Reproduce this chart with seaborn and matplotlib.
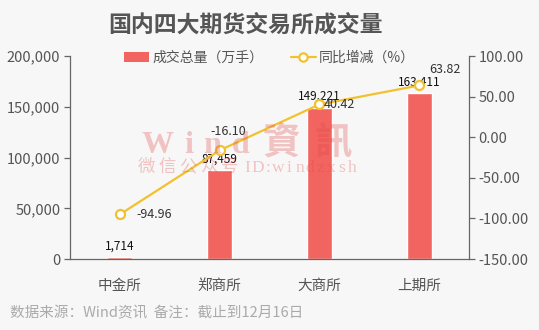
import matplotlib
matplotlib.use("Agg")
import matplotlib.pyplot as plt
import seaborn as sns
import pandas as pd
from matplotlib.patches import Patch
from matplotlib.lines import Line2D
from matplotlib.ticker import FuncFormatter

categories = ["中金所", "郑商所", "大商所", "上期所"]
volume = [1714, 87459, 149221, 163411]
yoy = [-94.96, -16.10, 40.42, 63.82]
left_ticks = [0, 50000, 100000, 150000, 200000]
right_ticks = [-150, -100, -50, 0, 50, 100]

sns.set_theme(style="white")
plt.rcParams["font.family"] = ["Noto Sans CJK SC", "DejaVu Sans"]
plt.rcParams["axes.unicode_minus"] = False

BG = "#f7f7f7"
BAR = "#f2645f"
LINE = "#f2c12e"
TXT = "#555555"
WM = "#e04848"
WM_ALPHA = 0.3

df = pd.DataFrame({"cat": categories, "vol": volume, "yoy": yoy})

fig = plt.figure(figsize=(5.39, 3.30), dpi=100, facecolor=BG)
ax = fig.add_axes([0.130, 0.215, 0.740, 0.615])
ax.set_facecolor(BG)

sns.barplot(data=df, x="cat", y="vol", color=BAR, width=0.25, ax=ax, saturation=1)
ax.set_ylim(0, 200000)
ax.set_xlim(-0.5, 3.5)
ax.set_yticks(left_ticks)
ax.yaxis.set_major_formatter(FuncFormatter(lambda v, p: f"{int(v):,}"))
ax.set_xlabel("")
ax.set_ylabel("")

ax2 = ax.twinx()
ax2.plot(range(len(categories)), yoy, color=LINE, lw=1.6, marker="o", ms=6.5,
         mfc="white", mec=LINE, mew=1.6, zorder=5)
ax2.set_ylim(-150, 100)
ax2.set_yticks(right_ticks)
ax2.yaxis.set_major_formatter(FuncFormatter(lambda v, p: f"{v:.2f}"))

for a in (ax, ax2):
    for s in a.spines.values():
        s.set_visible(False)
ax.spines["left"].set_visible(True)
ax.spines["bottom"].set_visible(True)
ax2.spines["right"].set_visible(True)
for s in (ax.spines["left"], ax.spines["bottom"], ax2.spines["right"]):
    s.set_color("#666666")
    s.set_linewidth(0.9)

ax.tick_params(axis="y", left=True, length=4, width=0.9, color="#666666",
               labelsize=10.5, labelcolor=TXT, pad=3)
ax.tick_params(axis="x", bottom=False, labelsize=10.5, labelcolor=TXT, pad=8)
ax2.tick_params(axis="y", right=True, length=4, width=0.9, color="#666666",
                labelsize=10.5, labelcolor=TXT, pad=3)

# bar labels
for i, v in enumerate(volume):
    ax.annotate(f"{v:,}", (i, v), xytext=(0, 3.5), textcoords="offset points",
                ha="center", va="bottom", fontsize=8.5, color="#111111")

# line labels
offsets = [(12, 0, "left", "center"), (6, 9, "center", "bottom"),
           (3, 0, "left", "center"), (7, 7, "left", "bottom")]
for i, (v, (dx, dy, ha, va)) in enumerate(zip(yoy, offsets)):
    ax2.annotate(f"{v:.2f}", (i, v), xytext=(dx, dy), textcoords="offset points",
                 ha=ha, va=va, fontsize=9, color="#333333", zorder=6)

# watermark (semi-transparent overlay)
W, H = 539.0, 330.0
wm_big = [("W", 158, 23), ("i", 189, 23), ("n", 212, 23), ("d", 241, 23),
          ("資", 281, 27), ("訊", 333, 27)]
for ch, px, fs in wm_big:
    fig.text(px / W, 1 - 145 / H, ch, fontsize=fs, color=WM, alpha=WM_ALPHA,
             ha="center", va="center", fontweight="bold",
             family=["Liberation Serif", "Noto Sans CJK TC"], zorder=10)
wm_small = list("微信公众号") + list("ID:windzxsh")
xs = [146 + 21 * k for k in range(5)] + [247 + 10.5 * k for k in range(11)]
for ch, px in zip(wm_small, xs):
    fig.text(px / W, 1 - 168 / H, ch, fontsize=12.5, color=WM, alpha=WM_ALPHA,
             ha="center", va="center",
             family=["Liberation Serif", "Noto Sans CJK SC"], zorder=10)

# legend
handles = [Patch(facecolor=BAR, edgecolor="none"),
           Line2D([0], [0], color=LINE, lw=1.6, marker="o", ms=6, mfc="white",
                  mec=LINE, mew=1.6)]
fig.legend(handles, ["成交总量（万手）", "同比增减（%）"], loc="center",
           bbox_to_anchor=(0.50, 0.825), ncol=2, frameon=False, fontsize=10,
           labelcolor=TXT, handlelength=1.8, handletextpad=0.2, columnspacing=2.0)

fig.text(0.455, 0.925, "国内四大期货交易所成交量", fontsize=16.5, fontweight="bold",
         color="#555555", ha="center", va="center")
fig.text(0.018, 0.05, "数据来源：Wind资讯  备注：截止到12月16日", fontsize=10.5,
         color="#aaaaaa", ha="left", va="center")

fig.savefig("out.png", dpi=100, facecolor=BG)
